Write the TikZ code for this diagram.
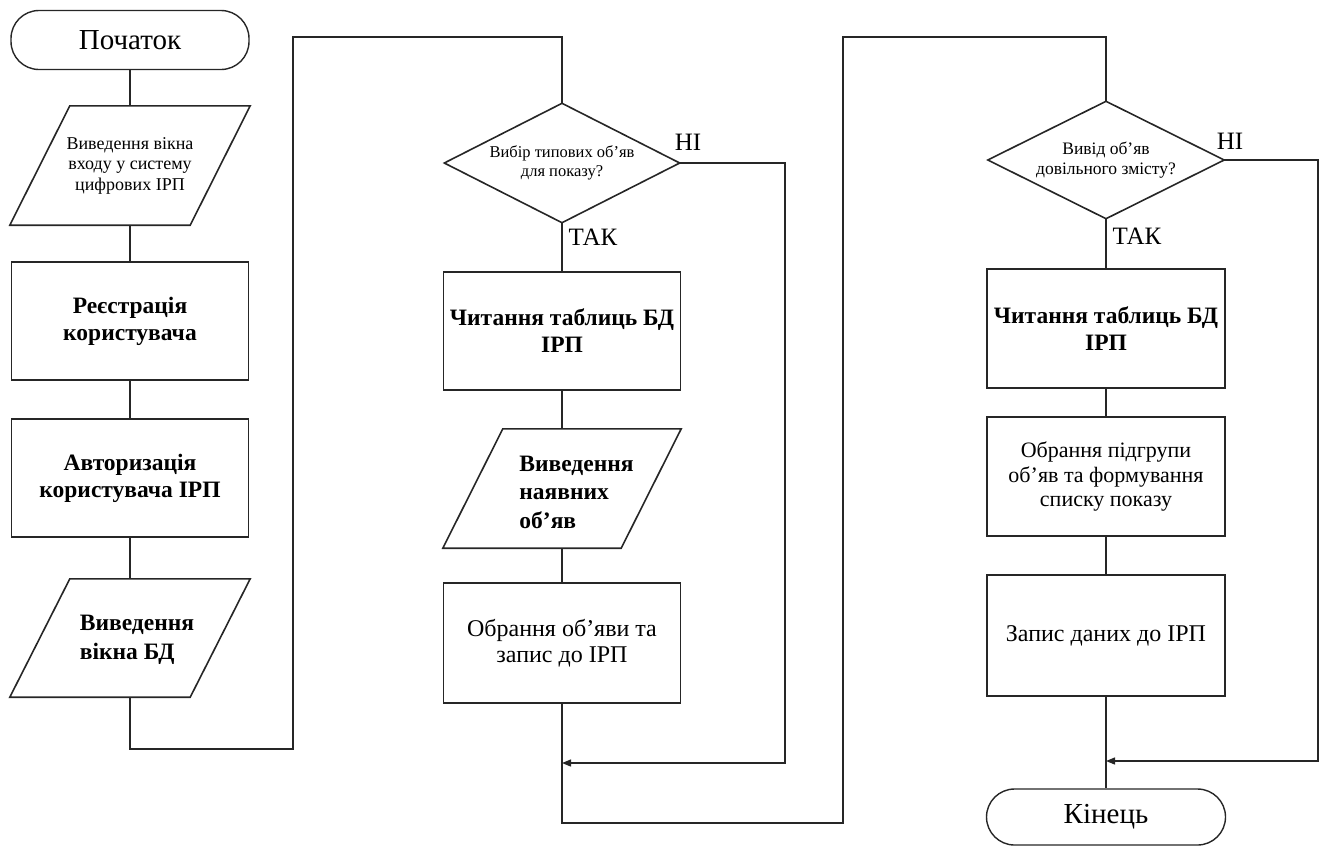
\documentclass[tikz,border=0pt]{standalone}
\usepackage{fontspec}
\setmainfont{Liberation Serif}
\usetikzlibrary{arrows.meta}
\begin{document}
\begin{tikzpicture}[x=1pt,y=-1pt,
  line/.style={line width=1.3pt, draw=black!85},
  shapeline/.style={line width=1.6pt, draw=black!85},
  box/.style={draw=black!85, line width=1.6pt, minimum width=237pt, minimum height=118pt, inner sep=2pt, align=center, font=\fontsize{24pt}{25.5pt}\selectfont},
  boldbox/.style={box, font=\fontsize{23.5pt}{27pt}\selectfont\bfseries},
  term/.style={draw=black!85, line width=1.4pt, rounded corners=28pt, minimum width=238pt, minimum height=59pt, inner sep=0pt, font=\fontsize{29pt}{31pt}\selectfont},
  shp/.style={inner sep=0pt, align=center},
  txt/.style={inner sep=0pt, font=\fontsize{23.5pt}{28.5pt}\selectfont\bfseries},
  small/.style={font=\fontsize{18pt}{20.5pt}\selectfont},
  dtext/.style={font=\fontsize{16.5pt}{18.5pt}\selectfont},
  lbl/.style={inner sep=0pt, font=\fontsize{25pt}{27pt}\selectfont},
  arr/.style={-{Triangle[length=9pt,width=7pt]}}
]
\useasboundingbox (0,0) rectangle (1322,847);

% column 1
\node[term] (start) at (130,40) {Початок};
\node[shp, small, minimum width=180pt, minimum height=119pt] (p1) at (130,165.5) {Виведення вікна\\входу у систему\\цифрових ІРП};
\node[boldbox] (r1) at (130,321) {Реєстрація\\користувача};
\node[boldbox] (r2) at (130,478) {Авторизація\\користувача ІРП};
\node[shp, minimum width=180pt, minimum height=118pt] (p2) at (130,638) {};
\node[txt, align=left] (p2t) at (137,640) {Виведення\\вікна БД};

% column 2
\node[shp, dtext, minimum width=235pt, minimum height=119pt] (d1) at (562,163) {Вибір типових об’яв\\для показу?};
\node[boldbox] (r3) at (562,331) {Читання таблиць БД\\ІРП};
\node[shp, minimum width=178pt, minimum height=119pt] (p3) at (562,488.5) {};
\node[txt, align=left] (p3t) at (576.5,492) {Виведення\\наявних\\об’яв};
\node[box, minimum height=120pt] (r4) at (562,643) {Обрання об’яви та\\запис до ІРП};

% column 3
\node[shp, font=\fontsize{17.5pt}{20pt}\selectfont, minimum width=236pt, minimum height=117pt] (d2) at (1106,160) {Вивід об’яв\\довільного змісту?};
\node[boldbox, minimum width=238pt, minimum height=119pt] (r5) at (1106,328.5) {Читання таблиць БД\\ІРП};
\node[box, minimum width=238pt, minimum height=119pt, font=\fontsize{22pt}{24.5pt}\selectfont] (r6) at (1106,476.5) {Обрання підгрупи\\об’яв та формування\\списку показу};
\node[box, minimum width=238pt, minimum height=121pt] (r7) at (1106,635.5) {Запис даних до ІРП};
\node[term, minimum width=239pt, minimum height=56pt] (end) at (1106,817) {Кінець};

% shapes drawn by hand
\foreach \d in {d1,d2}
  \draw[shapeline] (\d.north) -- (\d.east) -- (\d.south) -- (\d.west) -- cycle;
\foreach \p in {p1,p2,p3}
  \draw[shapeline] ([xshift=30pt]\p.north west) -- ([xshift=30pt]\p.north east)
     -- ([xshift=-30pt]\p.south east) -- ([xshift=-30pt]\p.south west) -- cycle;

% labels
\node[lbl] (no1) at (688,142) {НІ};
\node[lbl] (yes1) at (593,237) {ТАК};
\node[lbl] (no2) at (1230,141) {НІ};
\node[lbl] (yes2) at (1137,236) {ТАК};

% junction coordinates
\coordinate (j1) at (293,749);
\coordinate (j2) at (293,37);
\coordinate (j3) at (843,823);
\coordinate (j4) at (843,37);
\coordinate (n1) at (785,763);
\coordinate (n2) at (1318,761);

% connectors
\draw[line] (start.south) -- (p1.north);
\draw[line] (p1.south) -- (r1.north);
\draw[line] (r1.south) -- (r2.north);
\draw[line] (r2.south) -- (p2.north);
\draw[line] (p2.south) |- (j1) -- (j2) -| (d1.north);
\draw[line] (d1.south) -- (r3.north);
\draw[line] (r3.south) -- (p3.north);
\draw[line] (p3.south) -- (r4.north);
\draw[line, arr] (d1.east) -| (n1) -- (n1 -| r4.south);
\draw[line] (r4.south) |- (j3) -- (j4) -| (d2.north);
\draw[line] (d2.south) -- (r5.north);
\draw[line] (r5.south) -- (r6.north);
\draw[line] (r6.south) -- (r7.north);
\draw[line, arr] (d2.east) -| (n2) -- (n2 -| r7.south);
\draw[line] (r7.south) -- (end.north);
\end{tikzpicture}
\end{document}
